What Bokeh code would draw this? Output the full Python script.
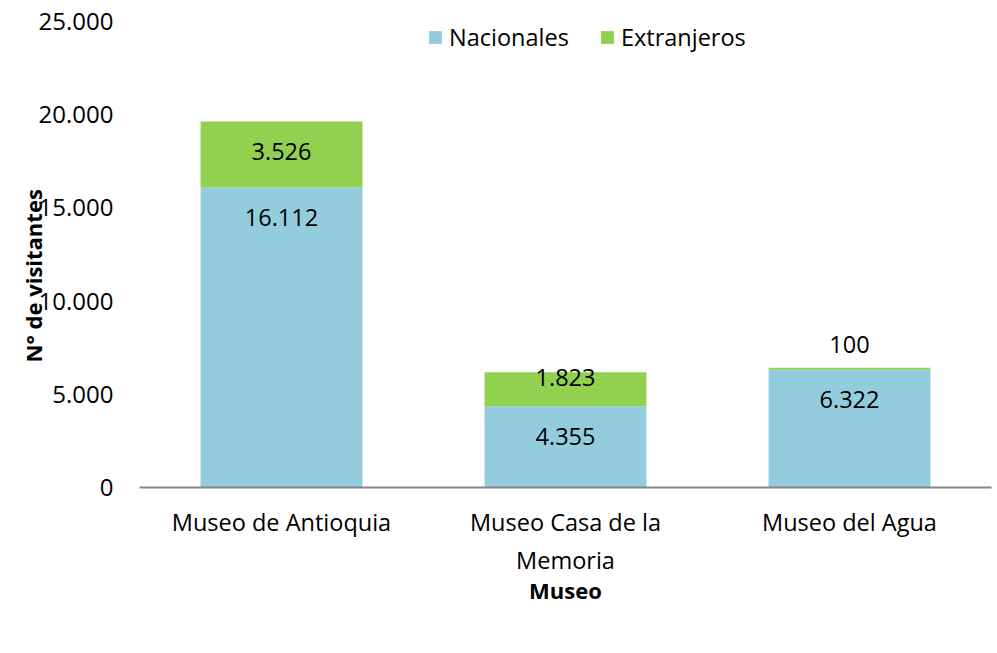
from bokeh.plotting import figure
from bokeh.models import (FactorRange, Range1d, FixedTicker, Title, Legend, LegendItem,
                          ColumnDataSource)
from bokeh.core.properties import value
from bokeh.embed import file_html
from bokeh.resources import INLINE

museos = ["Museo de Antioquia", "Museo Casa de la\nMemoria", "Museo del Agua"]
nacionales = [16112, 4355, 6322]
extranjeros = [3526, 1823, 100]
nac_labels = ["16.112", "4.355", "6.322"]
ext_labels = ["3.526", "1.823", "100"]
ytick_values = [0, 5000, 10000, 15000, 20000, 25000]
ytick_labels = ["0", "5.000", "10.000", "15.000", "20.000", "25.000"]

C_NAC = "#93CDDD"
C_EXT = "#92D050"
FONT = "Open Sans"

totals = [a + b for a, b in zip(nacionales, extranjeros)]

p = figure(x_range=FactorRange(*museos), y_range=Range1d(0, 25000),
           frame_width=852, frame_height=466, output_backend="svg",
           toolbar_location=None, min_border_left=139, min_border_right=4,
           min_border_top=21, min_border_bottom=0)
p.outline_line_color = None
p.xgrid.grid_line_color = None
p.ygrid.grid_line_color = None
p.background_fill_color = "white"
p.border_fill_color = "white"

src = ColumnDataSource(dict(x=museos, nac=nacionales, ext=extranjeros, tot=totals,
                            nl=nac_labels, el=ext_labels))
r1 = p.vbar(x="x", bottom=0, top="nac", width=0.57, source=src,
            fill_color=C_NAC, line_color=None)
r2 = p.vbar(x="x", bottom="nac", top="tot", width=0.57, source=src,
            fill_color=C_EXT, line_color=None)

p.text(x="x", y="nac", text="nl", source=src, text_font=value(FONT),
       text_font_size="23.5px", text_align="center", text_baseline="middle",
       y_offset=30, text_color="black")
ext_offsets = [30, 5, -23]
for i in range(3):
    p.text(x=[museos[i]], y=[totals[i]], text=[ext_labels[i]], text_font=value(FONT),
           text_font_size="23.5px", text_align="center", text_baseline="middle",
           y_offset=ext_offsets[i], text_color="black")

ya = p.yaxis[0]
ya.ticker = FixedTicker(ticks=ytick_values)
ya.major_label_overrides = {v: l for v, l in zip(ytick_values, ytick_labels)}
ya.axis_line_color = None
ya.major_tick_line_color = None
ya.minor_tick_line_color = None
ya.major_label_text_font = FONT
ya.major_label_text_font_size = "24px"
ya.major_label_text_color = "black"
ya.major_label_standoff = 20

xa = p.xaxis[0]
xa.axis_line_color = "#868686"
xa.axis_line_width = 2
xa.major_tick_line_color = None
xa.minor_tick_line_color = None
xa.major_label_text_font = FONT
xa.major_label_text_font_size = "23.5px"
xa.major_label_text_color = "black"
xa.major_label_standoff = 12
xa.axis_label = "Museo"
xa.axis_label_text_font = FONT
xa.axis_label_text_font_size = "22px"
xa.axis_label_text_font_style = "bold"
xa.axis_label_text_color = "black"
xa.axis_label_standoff = -4

ytitle = Title(text="N° de visitantes", align="left", offset=125,
               text_font=FONT, text_font_size="22px", text_font_style="bold",
               text_color="black", standoff=-24)
p.add_layout(ytitle, "left")

legend = Legend(items=[LegendItem(label="Nacionales", renderers=[r1]),
                       LegendItem(label="Extranjeros", renderers=[r2])],
                orientation="horizontal", location=(288, 434),
                label_text_font=FONT, label_text_font_size="23.5px",
                label_text_color="black", glyph_width=16, glyph_height=16,
                label_standoff=6, spacing=30, border_line_color=None,
                background_fill_alpha=0,
                padding=0, margin=0, label_height=20)
p.add_layout(legend, "center")

open("out.html", "w").write(file_html(p, INLINE))
